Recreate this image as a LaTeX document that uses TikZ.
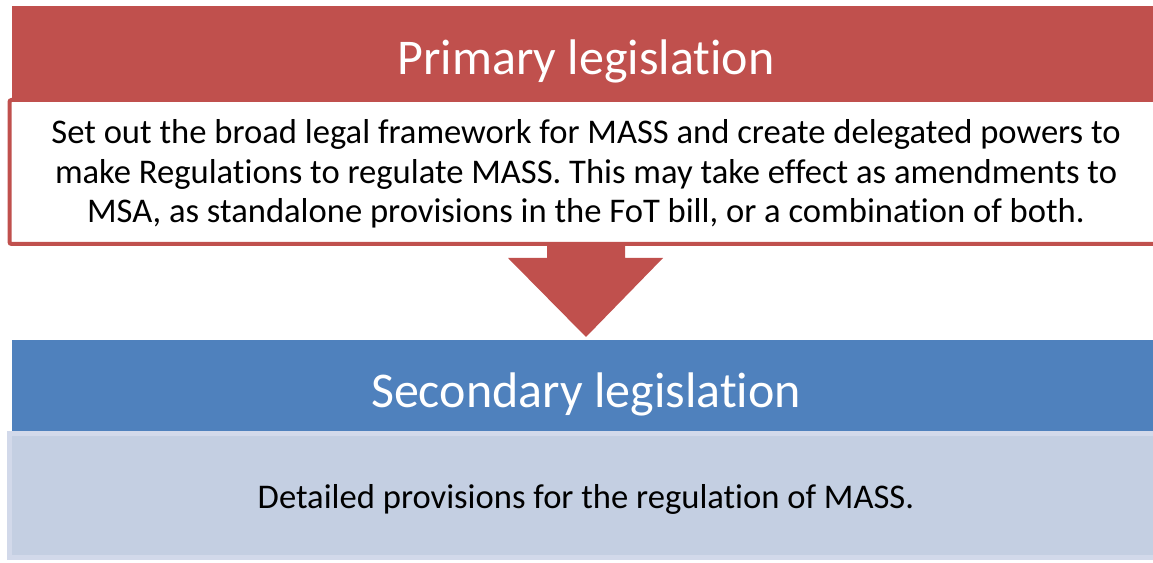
\documentclass[tikz,border=0pt]{standalone}
\usepackage{fontspec}
\setmainfont{Carlito}[Ligatures=NoCommon]
\usetikzlibrary{positioning,calc}

\definecolor{primred}{HTML}{C0504D}
\definecolor{secblue}{HTML}{4F81BD}
\definecolor{detfill}{HTML}{C4CFE2}
\definecolor{detedge}{HTML}{D2D9EA}

\begin{document}
\begin{tikzpicture}[x=1pt, y=1pt,
  every node/.style={inner sep=0pt, outer sep=0pt},
  hdrbar/.style={rectangle, minimum width=1300pt, minimum height=96pt},
  hdrtext/.style={text=white, font=\fontsize{50}{60}\selectfont, anchor=base},
  bodybox/.style={rectangle, minimum width=1300pt},
  bodytext/.style={align=center, font=\fontsize{34.6}{39.5}\selectfont}]

\useasboundingbox (0,0) rectangle (1153,562);

% Top: primary legislation

\node[bodybox, draw=primred, line width=4pt, fill=white, rounded corners=2pt, minimum height=144pt] (primbox) at (659.5,390) {};
\node[bodytext] (primtxt) at (586,388) {Set out the broad legal framework for MASS and create delegated powers to\\ make Regulations to regulate MASS. This may take effect as amendments to\\ MSA, as standalone provisions in the FoT bill, or a combination of both.};

\node[hdrbar, fill=primred] (primbar) at (662,508) {};
\node[hdrtext] (primlbl) at (586,487) {Primary legislation};

% Bottom: secondary legislation

\node[hdrbar, fill=secblue, minimum height=91pt] (secbar) at (662,176.5) {};
\node[hdrtext] (seclbl) at (586,154) {Secondary legislation};

\node[bodybox, draw=detedge, line width=5pt, fill=detfill, minimum height=123.5pt] (secbox) at (659.5,66.75) {};
\node[bodytext, anchor=base] (sectxt) at (586,53) {Detailed provisions for the regulation of MASS.};

% Arrow between the two

\fill[primred] ($(primtxt.center |- primbox.south)+(-39,0)$) -- ++(0,-14) -- ++(-39,0)
  -- (primtxt.center |- 0,225) -- ($(primtxt.center |- primbox.south)+(77,-14)$) -- ++(-38,0)
  -- ++(0,14) -- cycle;

\end{tikzpicture}
\end{document}
